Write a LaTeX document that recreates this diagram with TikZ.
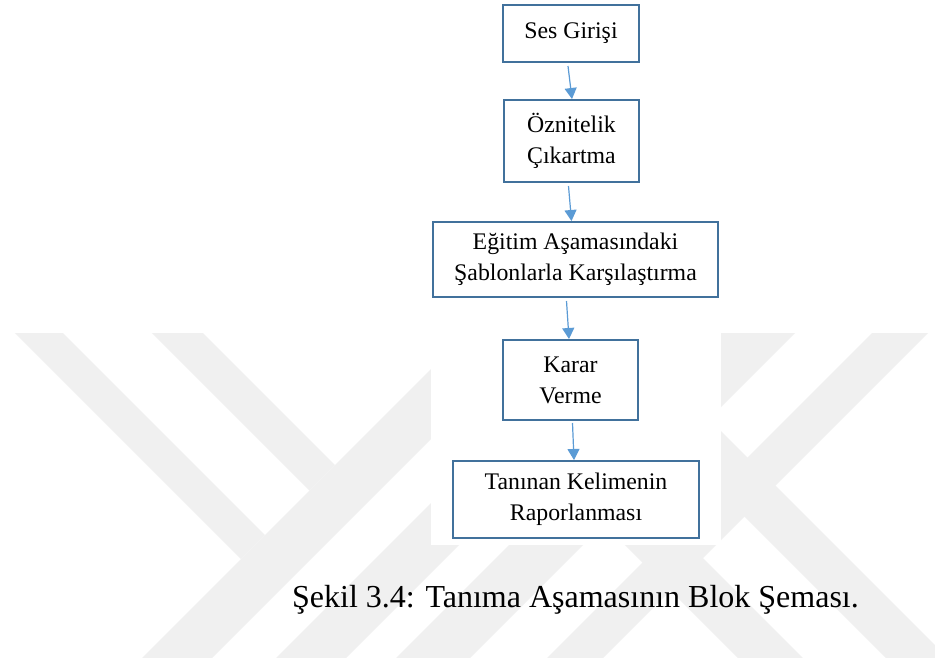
\documentclass[tikz,border=0pt]{standalone}
\usepackage{fontspec}
\setmainfont{Liberation Serif}
\usetikzlibrary{arrows.meta}
\definecolor{wmgray}{RGB}{240,240,240}
\definecolor{boxblue}{RGB}{65,113,156}
\definecolor{arrblue}{RGB}{91,155,213}
\begin{document}
\begin{tikzpicture}[x=1pt,y=-1pt,
  box/.style={draw=boxblue, line width=2pt, fill=white, inner sep=0pt, align=center,
              font=\fontsize{23.8pt}{31pt}\selectfont},
  arr/.style={draw=arrblue, line width=1.2pt, -{Triangle[length=11pt,width=12pt]}},
  wmark/.style={fill=wmgray}]
\useasboundingbox (0,0) rectangle (935,657);
\fill[white] (0,0) rectangle (935,657);
% watermark
\begin{scope}
  \clip (0,333) rectangle (935,657);
  \fill[wmark] (-9,309) -- (15,285) -- (265,535) -- (241,559) -- cycle;
  \fill[wmark] (59.5,240.5) -- (85,215) -- (335,465) -- (309.5,490.5) -- cycle;
  \fill[wmark] (100,700) -- (135,735) -- (535,335) -- (500,300) -- cycle;
  \fill[wmark] (167,767) -- (202,802) -- (602,402) -- (567,367) -- cycle;
  \fill[wmark] (227,827) -- (264,864) -- (964,164) -- (927,127) -- cycle;
  \fill[wmark] (302.5,902.5) -- (330.5,930.5) -- (1030.5,230.5) -- (1002.5,202.5) -- cycle;
  \fill[wmark] (641,413) -- (672,382) -- (995,705) -- (964,736) -- cycle;
  \fill[wmark] (567,487) -- (599.5,454.5) -- (922.5,777.5) -- (890,810) -- cycle;
\end{scope}
\fill[white] (431,0) rectangle (721,545);
% boxes
\node[box, minimum width=136pt, minimum height=57pt] (b1) at (571,33.5) {Ses Girişi};
\node[box, minimum width=135pt, minimum height=82pt] (b2) at (571.5,141) {Öznitelik\\Çıkartma};
\node[box, minimum width=285pt, minimum height=75pt] (b3) at (575.5,259.5) {Eğitim Aşamasındaki\\Şablonlarla Karşılaştırma};
\node[box, minimum width=135pt, minimum height=80pt] (b4) at (570.5,380) {Karar\\Verme};
\node[box, minimum width=246pt, minimum height=77pt] (b5) at (576,499.5) {Tanınan Kelimenin\\Raporlanması};
% arrows
\draw[arr] ([xshift=-3pt,yshift=-3pt]b1.south) -- ([xshift=0.5pt]b2.north);
\draw[arr] ([xshift=-3pt,yshift=-3pt]b2.south) -- ([xshift=-4pt]b3.north);
\draw[arr] ([xshift=-9pt,yshift=-3pt]b3.south) -- ([xshift=-1.5pt]b4.north);
\draw[arr] ([xshift=2pt,yshift=-2pt]b4.south) -- ([xshift=-2pt]b5.north);
% caption
\node[font=\fontsize{32pt}{38pt}\selectfont, anchor=base] (cap) at (575.5,607) {Şekil 3.4: Tanıma Aşamasının Blok Şeması.};
\end{tikzpicture}
\end{document}
